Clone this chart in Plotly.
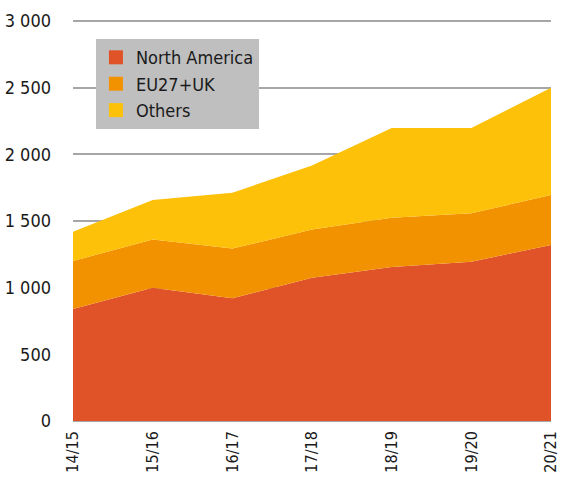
import plotly.graph_objects as go

categories = ["14/15", "15/16", "16/17", "17/18", "18/19", "19/20", "20/21"]
north_america = [840, 1000, 920, 1075, 1155, 1195, 1320]
eu27_uk = [360, 362, 373, 361, 370, 363, 375]
others = [220, 296, 419, 480, 673, 640, 805]

series = [
    ("North America", north_america, "#E05328"),
    ("EU27+UK", eu27_uk, "#F39200"),
    ("Others", others, "#FDC10A"),
]

FONT = "DejaVu Sans Condensed, Liberation Sans Narrow, sans-serif"

fig = go.Figure()
for name, vals, col in series:
    fig.add_trace(go.Scatter(
        x=categories, y=vals, name=name, mode="lines",
        stackgroup="one", line=dict(width=0, color=col),
        fillcolor=col, showlegend=False, legendgroup=name,
    ))
for name, vals, col in series:
    fig.add_trace(go.Scatter(
        x=[None], y=[None], name=name, mode="markers",
        marker=dict(symbol="square", size=14, color=col),
        legendgroup=name, showlegend=True,
    ))

fig.update_layout(
    width=561, height=479,
    margin=dict(l=73, r=10, t=19, b=58),
    paper_bgcolor="white", plot_bgcolor="white",
    separators=". ",
    font=dict(family=FONT, size=18, color="#1a1a1a"),
    showlegend=True,
    legend=dict(
        x=0.048, y=0.95, xanchor="left", yanchor="top",
        bgcolor="#BFBFBF", borderwidth=0,
        font=dict(family=FONT, size=18, color="#1a1a1a"),
        traceorder="normal", itemwidth=30,
        tracegroupgap=4,
    ),
    xaxis=dict(
        type="category", range=[0, 6], showgrid=False,
        tickangle=-90, ticks="", ticklabelstandoff=6,
        tickfont=dict(family=FONT, size=16, color="#1a1a1a"),
        showline=False, zeroline=False, automargin=False,
    ),
    yaxis=dict(
        range=[0, 3015], tickvals=[0, 500, 1000, 1500, 2000, 2500, 3000],
        tickformat=",d", showgrid=True, gridcolor="#A6A6A6", gridwidth=1.5,
        zeroline=True, zerolinecolor="#A6A6A6", zerolinewidth=1.5,
        ticks="", ticklabelstandoff=21, showline=False, automargin=False,
    ),
)

fig.write_html(
    "out.html",
    config={"displayModeBar": False},
    post_script="document.body.style.margin='0';document.body.style.overflow='hidden';",
)
